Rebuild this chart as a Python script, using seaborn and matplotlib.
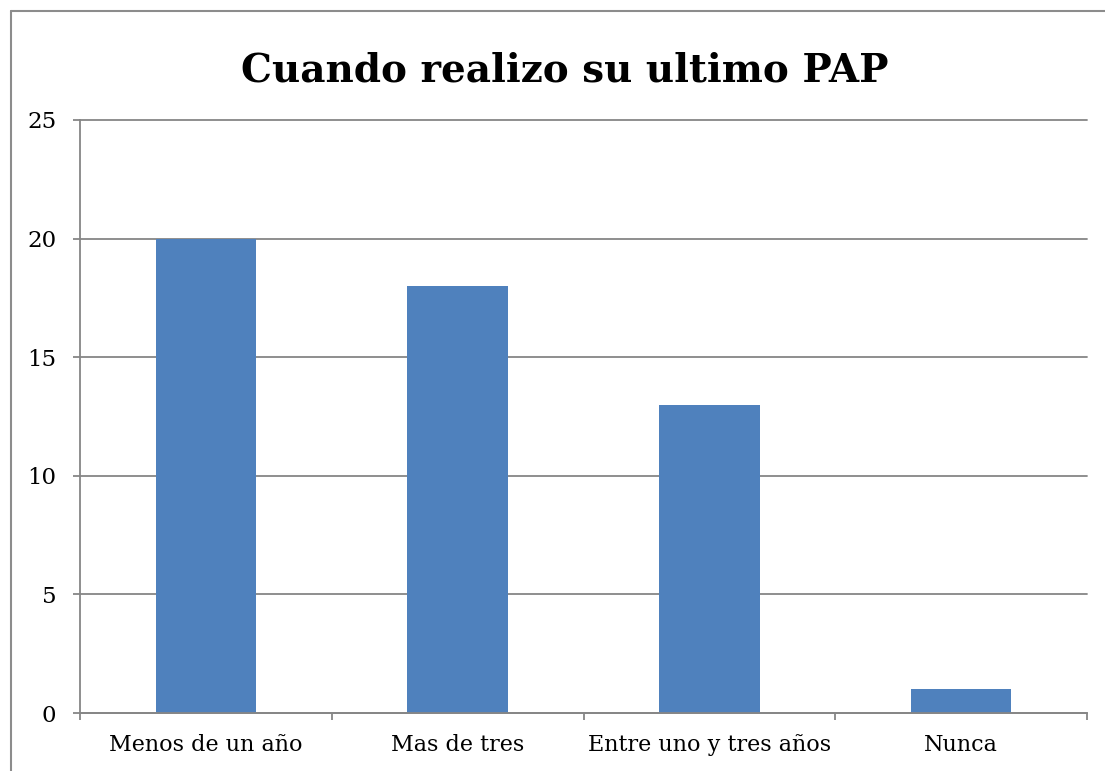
import matplotlib
matplotlib.use("Agg")
import matplotlib.pyplot as plt
import seaborn as sns
import pandas as pd
from matplotlib.lines import Line2D

categories = ["Menos de un año", "Mas de tres", "Entre uno y tres años", "Nunca"]
values = [20, 18, 13, 1]
yticks = [0, 5, 10, 15, 20, 25]
title = "Cuando realizo su ultimo PAP"

sns.set_theme(style="white")
plt.rcParams['font.family'] = ['DejaVu Serif']
plt.rcParams['text.color'] = 'black'
plt.rcParams['xtick.color'] = 'black'
plt.rcParams['ytick.color'] = 'black'

fig = plt.figure(figsize=(11.05, 7.71), dpi=100)
ax = fig.add_axes([80/1105, 1-713/771, (1087-80)/1105, (713-120)/771])

df = pd.DataFrame({"cat": categories, "val": values})
sns.barplot(data=df, x="cat", y="val", color="#4F81BD", saturation=1, width=0.4,
            linewidth=0, edgecolor="none", ax=ax)

grid_c = "#868686"
ax.set_xlim(-0.5, len(categories)-0.5)
ax.set_ylim(0, 25)
ax.set_yticks(yticks)
ax.set_yticklabels([str(t) for t in yticks])
ax.yaxis.grid(True, color=grid_c, linewidth=1.3)
for gl in ax.get_ygridlines():
    gl.set_clip_on(False)
ax.set_axisbelow(True)
for s in ["top", "right"]:
    ax.spines[s].set_visible(False)
for s in ["left", "bottom"]:
    ax.spines[s].set_color(grid_c)
    ax.spines[s].set_linewidth(1.3)
ax.set_xlabel("")
ax.set_ylabel("")
ax.tick_params(axis="y", left=True, length=5, width=1.3, color=grid_c, labelcolor="black", pad=12, labelsize=16.5)
ax.tick_params(axis="x", which="major", length=0, pad=15, labelcolor="black", labelsize=16)
ax.set_xticks([i - 0.5 for i in range(len(categories)+1)], minor=True)
ax.tick_params(axis="x", which="minor", bottom=True, length=5, width=1.3, color=grid_c)

fig.text(0.511, 1-70/771, title, ha="center", va="center", fontsize=28, fontweight="bold", color="black")

bx = 10.5/1105
by = 1 - 10.5/771
fig.lines.append(Line2D([bx, bx], [0, by], transform=fig.transFigure, color="#8C8C8C", linewidth=1.5))
fig.lines.append(Line2D([bx, 1], [by, by], transform=fig.transFigure, color="#8C8C8C", linewidth=1.5))

fig.savefig("out.png", dpi=100)
